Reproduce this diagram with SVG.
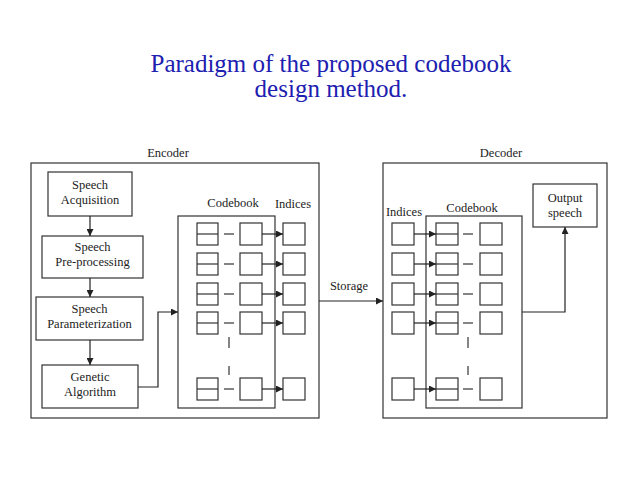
<svg xmlns="http://www.w3.org/2000/svg" width="638" height="479" viewBox="0 0 638 479">
<defs>
<marker id="ah" markerWidth="7" markerHeight="7" refX="7" refY="3.5" orient="auto" markerUnits="userSpaceOnUse">
<path d="M0,0 L7,3.5 L0,7 Z" fill="#222"/>
</marker>
<g id="cbrow">
<rect class="s" x="0" y="0" width="21" height="22"/>
<line class="s" x1="0" y1="11" x2="21" y2="11"/>
<line class="s" x1="27" y1="11" x2="37" y2="11"/>
<rect class="s" x="43" y="0" width="22" height="22"/>
</g>
<g id="cbrowd">
<rect class="s" x="0" y="0" width="22" height="22"/>
<line class="s" x1="0" y1="11" x2="22" y2="11"/>
<line class="s" x1="27" y1="11" x2="37" y2="11"/>
<rect class="s" x="44" y="0" width="22" height="22"/>
</g>
</defs>
<style>
text{font-family:'Liberation Serif','DejaVu Serif','Times New Roman',serif}
.t{font-size:12.5px;fill:#222;text-anchor:middle}
.title{font-size:25px;fill:#2020b0;text-anchor:middle}
.s{fill:none;stroke:#333;stroke-width:1.2}
.c line,.c polyline{fill:none;stroke:#222;stroke-width:1.2}
</style>
<g id="title" font-family="Liberation Serif, serif">
<text class="title" x="331" y="72">Paradigm of the proposed codebook</text>
<text class="title" x="331" y="97">design method.</text>
</g>
<g id="encoder" font-family="Liberation Serif, serif">
<rect class="s" x="31" y="163" width="288" height="255"/>
<text class="t" x="168" y="157">Encoder</text>
</g>
<g id="speech-acquisition" font-family="Liberation Serif, serif">
<rect class="s" x="48" y="172" width="84" height="44"/>
<text class="t" x="90" y="189">Speech</text>
<text class="t" x="90" y="204">Acquisition</text>
</g>
<g id="speech-preprocessing" font-family="Liberation Serif, serif">
<rect class="s" x="42" y="236" width="101" height="42"/>
<text class="t" x="92.5" y="251">Speech</text>
<text class="t" x="92.5" y="266">Pre-processing</text>
</g>
<g id="speech-parameterization" font-family="Liberation Serif, serif">
<rect class="s" x="36" y="297" width="107" height="43"/>
<text class="t" x="89.5" y="313">Speech</text>
<text class="t" x="89.5" y="328">Parameterization</text>
</g>
<g id="genetic-algorithm" font-family="Liberation Serif, serif">
<rect class="s" x="42" y="365" width="96" height="43"/>
<text class="t" x="90" y="381">Genetic</text>
<text class="t" x="90" y="396">Algorithm</text>
</g>
<g id="enc-codebook" font-family="Liberation Serif, serif">
<rect class="s" x="178" y="216" width="97" height="192"/>
<text class="t" x="233" y="207">Codebook</text>
<use href="#cbrow" x="197" y="223"/>
<use href="#cbrow" x="197" y="253"/>
<use href="#cbrow" x="197" y="283"/>
<use href="#cbrow" x="197" y="312"/>
<use href="#cbrow" x="197" y="378"/>
<line class="s" x1="229" y1="337" x2="229" y2="348"/>
<line class="s" x1="229" y1="366" x2="229" y2="375"/>
</g>
<g id="enc-indices" font-family="Liberation Serif, serif">
<text class="t" x="293" y="208">Indices</text>
<rect class="s" x="283" y="223" width="22" height="22"/>
<rect class="s" x="283" y="253" width="22" height="22"/>
<rect class="s" x="283" y="283" width="22" height="22"/>
<rect class="s" x="283" y="312" width="22" height="22"/>
<rect class="s" x="283" y="378" width="22" height="22"/>
</g>
<g id="decoder" font-family="Liberation Serif, serif">
<rect class="s" x="383" y="163" width="224" height="255"/>
<text class="t" x="501" y="157">Decoder</text>
</g>
<g id="dec-indices" font-family="Liberation Serif, serif">
<text class="t" x="404" y="216">Indices</text>
<rect class="s" x="392" y="223" width="22" height="22"/>
<rect class="s" x="392" y="253" width="22" height="22"/>
<rect class="s" x="392" y="283" width="22" height="22"/>
<rect class="s" x="392" y="312" width="22" height="22"/>
<rect class="s" x="392" y="378" width="22" height="22"/>
</g>
<g id="dec-codebook" font-family="Liberation Serif, serif">
<rect class="s" x="426" y="216" width="96" height="192"/>
<text class="t" x="472" y="212">Codebook</text>
<use href="#cbrowd" x="436" y="223"/>
<use href="#cbrowd" x="436" y="253"/>
<use href="#cbrowd" x="436" y="283"/>
<use href="#cbrowd" x="436" y="312"/>
<use href="#cbrowd" x="436" y="378"/>
<line class="s" x1="468" y1="337" x2="468" y2="348"/>
<line class="s" x1="468" y1="366" x2="468" y2="375"/>
</g>
<g id="output-speech" font-family="Liberation Serif, serif">
<rect class="s" x="533" y="184" width="64" height="43"/>
<text class="t" x="565" y="202">Output</text>
<text class="t" x="565" y="217">speech</text>
</g>
<g id="storage-label" font-family="Liberation Serif, serif">
<text class="t" x="349" y="290">Storage</text>
</g>
<g id="connectors" class="c">
<line x1="90" y1="216" x2="90" y2="236" marker-end="url(#ah)"/>
<line x1="90" y1="278" x2="90" y2="297" marker-end="url(#ah)"/>
<line x1="90" y1="340" x2="90" y2="365" marker-end="url(#ah)"/>
<polyline points="138,387 158,387 158,312 178,312" marker-end="url(#ah)"/>
<line x1="262" y1="234" x2="283" y2="234" marker-end="url(#ah)"/>
<line x1="262" y1="264" x2="283" y2="264" marker-end="url(#ah)"/>
<line x1="262" y1="294" x2="283" y2="294" marker-end="url(#ah)"/>
<line x1="262" y1="323" x2="283" y2="323" marker-end="url(#ah)"/>
<line x1="262" y1="389" x2="283" y2="389" marker-end="url(#ah)"/>
<line x1="319" y1="301" x2="383" y2="301" marker-end="url(#ah)"/>
<line x1="414" y1="234" x2="436" y2="234" marker-end="url(#ah)"/>
<line x1="414" y1="264" x2="436" y2="264" marker-end="url(#ah)"/>
<line x1="414" y1="294" x2="436" y2="294" marker-end="url(#ah)"/>
<line x1="414" y1="323" x2="436" y2="323" marker-end="url(#ah)"/>
<line x1="414" y1="389" x2="436" y2="389" marker-end="url(#ah)"/>
<polyline points="522,312 565,312 565,227" marker-end="url(#ah)"/>
</g>
</svg>
